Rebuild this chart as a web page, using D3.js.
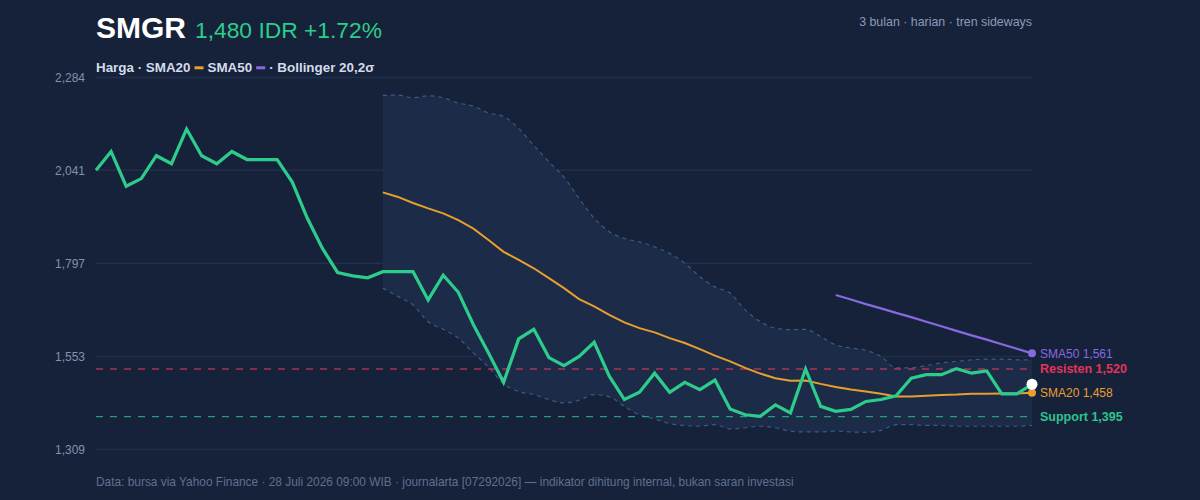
<!DOCTYPE html>
<html>
<head>
<meta charset="utf-8">
<script src="https://cdn.jsdelivr.net/npm/d3@7"></script>
<style>
  html, body { margin: 0; padding: 0; background: #16223a; }
  svg { display: block; font-family: "Liberation Sans", Arial, Helvetica, sans-serif; }
</style>
</head>
<body>
<svg id="chart" width="1200" height="500"></svg>
<script>
// ---- data ----
const days = d3.range(63); // trading-day index
const price = [2041, 2090, 1999, 2019, 2079, 2058, 2149, 2079, 2058, 2090,
               2069, 2069, 2069, 2010, 1915, 1836, 1773, 1764, 1759, 1775,
               1775, 1775, 1701, 1766, 1721, 1636, 1562, 1485, 1599, 1624,
               1550, 1529, 1553, 1590, 1501, 1440, 1459, 1509, 1459, 1485,
               1466, 1491, 1415, 1400, 1396, 1426, 1405, 1520, 1422, 1409,
               1414, 1435, 1440, 1450, 1496, 1505, 1505, 1521, 1509, 1515,
               1455, 1455, 1480];
const sma20Start = 19;
const sma20 = [1983, 1971, 1955, 1941, 1928, 1910, 1888, 1858, 1827, 1806,
               1784, 1758, 1732, 1703, 1684, 1662, 1642, 1627, 1616, 1601,
               1588, 1572, 1555, 1540, 1523, 1508, 1496, 1489, 1490, 1481,
               1473, 1466, 1461, 1455, 1448, 1448, 1450, 1452, 1453, 1455,
               1455, 1456, 1456, 1458];
const bbUpper = [2237, 2238, 2231, 2236, 2231, 2217, 2209, 2191, 2182, 2150,
                 2106, 2063, 2023, 1967, 1915, 1880, 1862, 1853, 1840, 1823,
                 1797, 1762, 1735, 1719, 1675, 1644, 1627, 1623, 1624, 1605,
                 1583, 1575, 1569, 1553, 1523, 1523, 1529, 1536, 1540, 1544,
                 1546, 1546, 1544, 1544];
const bbLower = [1732, 1710, 1688, 1644, 1624, 1601, 1562, 1525, 1481, 1461,
                 1453, 1440, 1431, 1438, 1453, 1447, 1422, 1400, 1389, 1377,
                 1372, 1370, 1374, 1363, 1366, 1370, 1366, 1357, 1355, 1355,
                 1357, 1355, 1354, 1359, 1374, 1374, 1372, 1372, 1370, 1370,
                 1370, 1370, 1370, 1372];
const sma50Start = 49;
const sma50 = [1714, 1702, 1690, 1679, 1667, 1656, 1644, 1632, 1620, 1608,
               1597, 1585, 1573, 1561];
const resistance = 1520;
const support = 1395;
const yTicks = [1309, 1553, 1797, 2041, 2284];

const ticker = "SMGR";
const quote = "1,480 IDR +1.72%";
const subtitle = "3 bulan · harian · tren sideways";
const footer = "Data: bursa via Yahoo Finance · 28 Juli 2026 09:00 WIB · journalarta [07292026] — indikator dihitung internal, bukan saran investasi";

// ---- colours ----
const C = {
  bg: "#16223a", grid: "#222f4a", band: "#1c2b47", bandLine: "#3d5985",
  price: "#2ecc8c", sma20: "#e89f2e", sma50: "#8769e0",
  res: "#e0355a", sup: "#2ec48a", axis: "#8391ab", muted: "#8c9bb6", foot: "#5f708e"
};

const svg = d3.select("#chart");
svg.append("rect").attr("width", 1200).attr("height", 500).attr("fill", C.bg);

const x = d3.scaleLinear().domain([0, days.length - 1]).range([96, 1032]);
const y = d3.scaleLinear().domain([1309, 2284]).range([449.5, 77.5]);

// grid
const g = svg.append("g");
g.selectAll("line.grid").data(yTicks).join("line")
  .attr("x1", 96).attr("x2", 1032)
  .attr("y1", d => y(d)).attr("y2", d => y(d))
  .attr("stroke", C.grid).attr("stroke-width", 1.5);

// y axis labels
const yAxis = d3.axisLeft(y).tickValues(yTicks).tickSize(0).tickPadding(0)
  .tickFormat(d3.format(",d"));
const ya = svg.append("g").attr("transform", "translate(85,0)").call(yAxis);
ya.select(".domain").remove();
ya.selectAll("text").attr("fill", C.axis).attr("font-size", 12)
  .attr("font-family", "Liberation Sans, Arial, sans-serif");

// Bollinger band
const bandData = bbUpper.map((u, i) => ({ i: i + sma20Start, u, l: bbLower[i] }));
svg.append("path").datum(bandData)
  .attr("d", d3.area().x(d => x(d.i)).y0(d => y(d.l)).y1(d => y(d.u)).curve(d3.curveMonotoneX))
  .attr("fill", C.band);
["u", "l"].forEach(k => {
  svg.append("path").datum(bandData)
    .attr("d", d3.line().x(d => x(d.i)).y(d => y(d[k])).curve(d3.curveMonotoneX))
    .attr("fill", "none").attr("stroke", C.bandLine).attr("stroke-width", 1.2)
    .attr("stroke-dasharray", "4,4");
});

// resistance/support
[[resistance, C.res], [support, C.sup]].forEach(([v, c]) => {
  svg.append("line").attr("x1", 96).attr("x2", 1032)
    .attr("y1", y(v)).attr("y2", y(v))
    .attr("stroke", c).attr("stroke-opacity", 0.75).attr("stroke-width", 1.3)
    .attr("stroke-dasharray", "7,7");
});

// SMA lines
const sma20Data = sma20.map((v, i) => ({ i: i + sma20Start, v }));
const sma50Data = sma50.map((v, i) => ({ i: i + sma50Start, v }));
const ln = d3.line().x(d => x(d.i)).y(d => y(d.v));
svg.append("path").datum(sma20Data).attr("d", ln)
  .attr("fill", "none").attr("stroke", C.sma20).attr("stroke-width", 2);
svg.append("path").datum(sma50Data).attr("d", ln)
  .attr("fill", "none").attr("stroke", C.sma50).attr("stroke-width", 2.2);

// price
const priceData = price.map((v, i) => ({ i, v }));
svg.append("path").datum(priceData).attr("d", ln)
  .attr("fill", "none").attr("stroke", C.price).attr("stroke-width", 3.2)
  .attr("stroke-linejoin", "miter");

// end dots
const last = days.length - 1;
svg.append("circle").attr("cx", x(last)).attr("cy", y(sma50[sma50.length - 1])).attr("r", 4).attr("fill", C.sma50);
svg.append("circle").attr("cx", x(last)).attr("cy", y(sma20[sma20.length - 1])).attr("r", 4).attr("fill", C.sma20);
svg.append("circle").attr("cx", x(last)).attr("cy", y(price[last])).attr("r", 5.5).attr("fill", "#ffffff");

// right labels
const fmt = d3.format(",d");
const rl = [
  { t: "SMA50 " + fmt(sma50[sma50.length - 1]), v: sma50[sma50.length - 1], c: C.sma50, w: "normal" },
  { t: "Resisten " + fmt(resistance), v: resistance, c: C.res, w: "bold" },
  { t: "SMA20 " + fmt(sma20[sma20.length - 1]), v: sma20[sma20.length - 1], c: C.sma20, w: "normal" },
  { t: "Support " + fmt(support), v: support, c: C.sup, w: "bold" }
];
svg.selectAll("text.rl").data(rl).join("text")
  .attr("x", 1040).attr("y", d => y(d.v)).attr("dy", "0.35em")
  .attr("fill", d => d.c).attr("font-size", d => d.w === "bold" ? 12.5 : 12)
  .attr("font-weight", d => d.w).text(d => d.t);

// title
const title = svg.append("text").attr("x", 96).attr("y", 38);
title.append("tspan").attr("font-size", 30).attr("font-weight", "bold").attr("fill", "#ffffff").text(ticker);
title.append("tspan").attr("dx", 9).attr("font-size", 22.8).attr("fill", C.price).text(quote);

svg.append("text").attr("x", 1032).attr("y", 26).attr("text-anchor", "end")
  .attr("font-size", 12.4).attr("fill", C.muted).text(subtitle);

// legend
const lg = svg.append("g").attr("font-size", 13.4).attr("font-weight", "bold").attr("fill", "#d3dbea");
let lx = 96;
function legText(s) {
  const t = lg.append("text").attr("x", lx).attr("y", 72).text(s);
  lx += t.node().getComputedTextLength();
}
function legSwatch(c) {
  lg.append("rect").attr("x", lx + 4).attr("y", 66.3).attr("width", 9).attr("height", 3).attr("fill", c);
  lx += 17;
}
legText("Harga · SMA20");
legSwatch(C.sma20);
legText("SMA50");
legSwatch(C.sma50);
legText("· Bollinger 20,2σ");

// footer
svg.append("text").attr("x", 96).attr("y", 486).attr("font-size", 11.9)
  .attr("fill", C.foot).text(footer);
</script>
</body>
</html>
